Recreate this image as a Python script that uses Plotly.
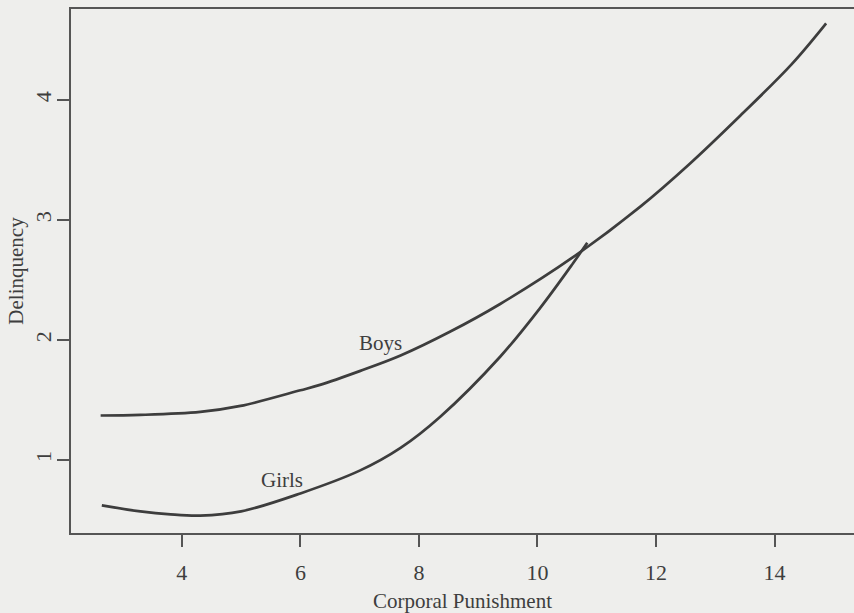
import plotly.graph_objects as go

# Boys curve
boys_x = [2.63, 3.3, 4.31, 4.99, 6.0, 6.33, 7.0, 7.69, 8.53, 9.37, 10.60, 11.73, 12.57, 13.42, 14.29, 14.87]
boys_y = [1.37, 1.375, 1.40, 1.45, 1.58, 1.625, 1.74, 1.87, 2.07, 2.30, 2.69, 3.11, 3.47, 3.87, 4.30, 4.64]

# Girls curve
girls_x = [2.65, 3.3, 3.81, 4.31, 5.0, 6.0, 7.0, 7.69, 8.36, 9.37, 10.05, 10.60, 10.84]
girls_y = [0.62, 0.57, 0.545, 0.535, 0.57, 0.72, 0.91, 1.10, 1.36, 1.86, 2.27, 2.64, 2.81]

labels = ["Boys", "Girls"]
label_x = [7.35, 5.69]
label_y = [1.975, 0.83]

x_ticks = [4, 6, 8, 10, 12, 14]
y_ticks = [1, 2, 3, 4]

BG = "#eeeeec"
INK = "#3d3d3d"
FONT = "Liberation Serif"

fig = go.Figure()
fig.add_trace(go.Scatter(x=boys_x, y=boys_y, mode="lines", name="Boys",
                         line=dict(color=INK, width=2.7, shape="spline", smoothing=1.0),
                         showlegend=False))
fig.add_trace(go.Scatter(x=girls_x, y=girls_y, mode="lines", name="Girls",
                         line=dict(color=INK, width=2.7, shape="spline", smoothing=1.0),
                         showlegend=False))

for t, lx, ly in zip(labels, label_x, label_y):
    fig.add_annotation(x=lx, y=ly, text=t, showarrow=False,
                       font=dict(family=FONT, size=21, color="#3e3e3e"))

fig.update_layout(
    width=854, height=613,
    margin=dict(l=71, r=0, t=9, b=80),
    paper_bgcolor=BG, plot_bgcolor=BG,
    font=dict(family=FONT, size=21, color="#3e3e3e"),
    xaxis=dict(range=[2.13, 15.34], tickvals=x_ticks, ticks="outside", ticklen=12,
               tickwidth=1.5, tickcolor="#555", showline=True, linecolor="#555",
               linewidth=2, mirror=True, showgrid=False, zeroline=False,
               automargin=False, ticklabelstandoff=7, tickfont=dict(size=22),
               title=dict(text="Corporal Punishment", standoff=11,
                          font=dict(family=FONT, size=21))),
    yaxis=dict(range=[0.39, 4.76], tickvals=y_ticks, ticks="outside", ticklen=12,
               tickwidth=1.5, tickcolor="#555", showline=True, linecolor="#555",
               linewidth=2, mirror=False, showgrid=False, zeroline=False,
               automargin=False, tickangle=-90, ticklabelstandoff=-3, tickfont=dict(size=22),
               title=dict(text="Delinquency", standoff=2,
                          font=dict(family=FONT, size=21))),
)

fig.write_html("out.html", config={"displayModeBar": False},
               post_script="document.body.style.margin='0';document.body.style.overflow='hidden';")
